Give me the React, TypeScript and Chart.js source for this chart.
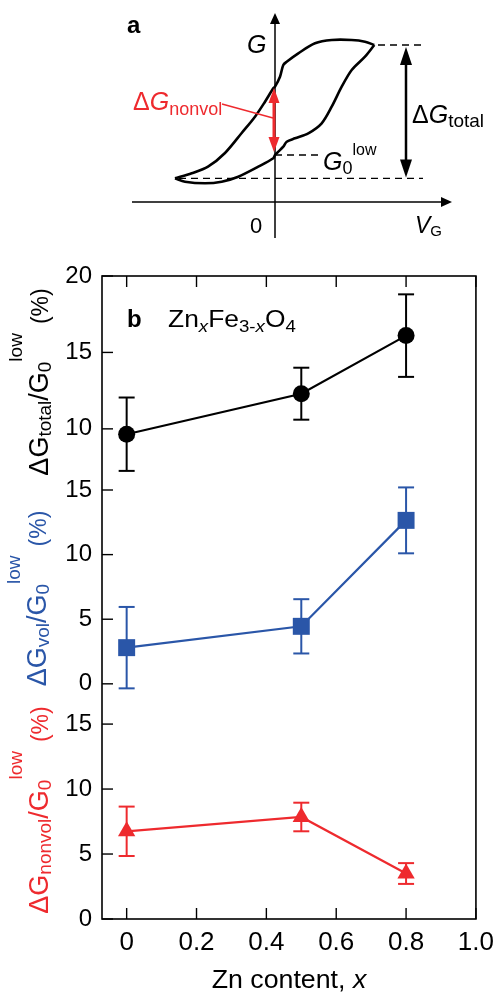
import React, { useEffect, useRef } from "react";
import { Chart, registerables } from "chart.js";

Chart.register(...registerables);

const FONT = "'Liberation Sans', Arial, Helvetica, sans-serif";
const BLACK = "#000000";
const BLUE = "#2A56A8";
const RED = "#EE2A2E";

// ---------- Panel a: schematic hysteresis loop (V_G, G arbitrary units) ----------
const LOOP_UPPER_V = [-10.0, -8.33, -6.7, -5.0, -3.33, -2.0, -1.0, -0.17, 0, 0.5, 0.83, 1.17, 2.33, 4.0, 5.67, 7.67, 9.0, 9.93];
const LOOP_UPPER_G = [2.37, 2.87, 3.53, 4.9, 6.9, 8.53, 10.03, 11.37, 11.53, 12.53, 13.7, 14.03, 14.87, 15.87, 16.2, 16.2, 16.03, 15.7];
const LOOP_LOWER_V = [9.93, 9.0, 7.67, 6.67, 5.67, 4.67, 3.33, 2.0, 1.17, 0.83, 0.33, 0, -0.17, -1.67, -3.67, -5.33, -7.0, -9.0, -10.0];
const LOOP_LOWER_G = [15.7, 14.53, 13.2, 11.53, 9.53, 7.87, 6.87, 6.37, 6.03, 5.53, 5.03, 4.7, 4.37, 3.53, 2.53, 2.03, 1.87, 2.03, 2.37];
const G_HIGH = 15.7;
const G_LOW = 2.37;
const G0_LOW = 4.7;
const G_NONVOL_TOP = 11.4;
const G_NONVOL_BOTTOM = 5.0;

// ---------- Panel b: data ----------
const X_CONTENT = [0, 0.5, 0.8];
const TOTAL = [9.65, 12.3, 16.1];
const TOTAL_ERR = [2.4, 1.7, 2.7];
const VOL = [2.8, 4.45, 12.65];
const VOL_ERR = [3.15, 2.1, 2.55];
const NONVOL = [6.75, 7.85, 3.5];
const NONVOL_ERR = [1.9, 1.1, 0.8];

const X_TICKS = [0, 0.2, 0.4, 0.6, 0.8, 1.0];
const TOTAL_TICKS = [10, 15, 20];
const VOL_TICKS = [0, 5, 10, 15];
const NONVOL_TICKS = [0, 5, 10, 15];

type Seg = { t: string; size: number; italic?: boolean; bold?: boolean; dy?: number; gap?: number };

function segFont(s: Seg) {
  return `${s.italic ? "italic " : ""}${s.bold ? "bold " : ""}${s.size}px ${FONT}`;
}

function drawRich(
  ctx: CanvasRenderingContext2D,
  segs: Seg[],
  x: number,
  y: number,
  color: string,
  align: "left" | "center" = "left",
  rotate = false,
  scaleX = 1
) {
  ctx.save();
  ctx.translate(x, y);
  if (rotate) ctx.rotate(-Math.PI / 2);
  ctx.scale(scaleX, 1);
  ctx.fillStyle = color;
  ctx.textBaseline = "alphabetic";
  ctx.textAlign = "left";
  let total = 0;
  for (const s of segs) {
    ctx.font = segFont(s);
    total += ctx.measureText(s.t).width + (s.gap || 0);
  }
  let cx = align === "center" ? -total / 2 : 0;
  for (const s of segs) {
    ctx.font = segFont(s);
    cx += s.gap || 0;
    ctx.fillText(s.t, cx, s.dy || 0);
    cx += ctx.measureText(s.t).width;
  }
  ctx.restore();
}

function arrowHead(
  ctx: CanvasRenderingContext2D,
  tx: number,
  ty: number,
  dx: number,
  dy: number,
  len: number,
  half: number,
  color: string
) {
  const bx = tx - dx * len;
  const by = ty - dy * len;
  const nx = -dy;
  const ny = dx;
  ctx.save();
  ctx.fillStyle = color;
  ctx.beginPath();
  ctx.moveTo(tx, ty);
  ctx.lineTo(bx + nx * half, by + ny * half);
  ctx.lineTo(bx - nx * half, by - ny * half);
  ctx.closePath();
  ctx.fill();
  ctx.restore();
}

function line(ctx: CanvasRenderingContext2D, x1: number, y1: number, x2: number, y2: number) {
  ctx.beginPath();
  ctx.moveTo(x1, y1);
  ctx.lineTo(x2, y2);
  ctx.stroke();
}

const panelAPlugin = {
  id: "panelA",
  beforeDatasetsDraw(chart: any) {
    const ctx: CanvasRenderingContext2D = chart.ctx;
    const xs = chart.scales.x;
    const ys = chart.scales.y;
    const px = (v: number) => xs.getPixelForValue(v);
    const py = (g: number) => ys.getPixelForValue(g);
    ctx.save();
    ctx.strokeStyle = BLACK;
    ctx.lineWidth = 1.5;
    const tipX = px(17.7);
    line(ctx, px(-14.3), py(0), tipX - 8, py(0));
    arrowHead(ctx, tipX, py(0), 1, 0, 11, 5, BLACK);
    const tipY = py(18.9);
    line(ctx, px(0), py(-3.6), px(0), tipY + 8);
    arrowHead(ctx, px(0), tipY, 0, -1, 11, 5, BLACK);
    ctx.setLineDash([7, 5]);
    ctx.lineWidth = 1.3;
    line(ctx, px(10.3), py(G_HIGH), px(14.8), py(G_HIGH));
    line(ctx, px(-9.6), py(G_LOW), px(14.8), py(G_LOW));
    line(ctx, px(0), py(G0_LOW), px(4.3), py(G0_LOW));
    ctx.restore();
  },
  afterDatasetsDraw(chart: any) {
    const ctx: CanvasRenderingContext2D = chart.ctx;
    const xs = chart.scales.x;
    const ys = chart.scales.y;
    const px = (v: number) => xs.getPixelForValue(v);
    const py = (g: number) => ys.getPixelForValue(g);
    ctx.save();
    const ax = px(13.1);
    const aTop = py(15.5);
    const aBot = py(2.45);
    ctx.strokeStyle = BLACK;
    ctx.lineWidth = 2.5;
    line(ctx, ax, aTop + 14, ax, aBot - 14);
    arrowHead(ctx, ax, aTop, 0, -1, 18, 6, BLACK);
    arrowHead(ctx, ax, aBot, 0, 1, 18, 6, BLACK);
    const rx = px(-0.1);
    const rTop = py(G_NONVOL_TOP);
    const rBot = py(G_NONVOL_BOTTOM);
    ctx.strokeStyle = RED;
    ctx.lineWidth = 3;
    line(ctx, rx, rTop + 12, rx, rBot - 12);
    arrowHead(ctx, rx, rTop, 0, -1, 15, 5.5, RED);
    arrowHead(ctx, rx, rBot, 0, 1, 15, 5.5, RED);
    ctx.lineWidth = 1.4;
    line(ctx, px(-5.3), py(9.8), px(-0.2), py(8.4));
    ctx.restore();

    drawRich(ctx, [{ t: "a", size: 24, bold: true }], px(-14.8), py(16.9), BLACK);
    drawRich(ctx, [{ t: "G", size: 25, italic: true }], px(-2.8), py(14.9), BLACK);
    drawRich(ctx, [{ t: "0", size: 22 }], px(-2.5), py(-3.1), BLACK);
    drawRich(
      ctx,
      [
        { t: "V", size: 23, italic: true },
        { t: "G", size: 15, dy: 3 },
      ],
      px(14.0),
      py(-3.1),
      BLACK
    );
    drawRich(
      ctx,
      [
        { t: "\u0394", size: 25 },
        { t: "G", size: 25, italic: true },
        { t: "nonvol", size: 18, dy: 5 },
      ],
      px(-14.2),
      py(9.2),
      RED
    );
    drawRich(
      ctx,
      [
        { t: "\u0394", size: 25 },
        { t: "G", size: 25, italic: true },
        { t: "total", size: 19, dy: 4 },
      ],
      px(13.7),
      py(7.9),
      BLACK
    );
    drawRich(
      ctx,
      [
        { t: "G", size: 25, italic: true },
        { t: "0", size: 18, dy: 4 },
        { t: "low", size: 16, dy: -15 },
      ],
      px(4.8),
      py(3.2),
      BLACK
    );
  },
};

const SERIES = [
  { vals: TOTAL, errs: TOTAL_ERR, axis: "yTotal", color: BLACK },
  { vals: VOL, errs: VOL_ERR, axis: "yVol", color: BLUE },
  { vals: NONVOL, errs: NONVOL_ERR, axis: "yNon", color: RED },
];

const panelBPlugin = {
  id: "panelB",
  beforeDatasetsDraw(chart: any) {
    const ctx: CanvasRenderingContext2D = chart.ctx;
    const xs = chart.scales.x;
    ctx.save();
    ctx.lineWidth = 2;
    for (const s of SERIES) {
      const ys = chart.scales[s.axis];
      ctx.strokeStyle = s.color;
      s.vals.forEach((v, j) => {
        const x = xs.getPixelForValue(X_CONTENT[j]);
        const y1 = ys.getPixelForValue(v + s.errs[j]);
        const y2 = ys.getPixelForValue(v - s.errs[j]);
        line(ctx, x, y1, x, y2);
        line(ctx, x - 8, y1, x + 8, y1);
        line(ctx, x - 8, y2, x + 8, y2);
      });
    }
    ctx.restore();
  },
  afterDraw(chart: any) {
    const ctx: CanvasRenderingContext2D = chart.ctx;
    const a = chart.chartArea;
    const xs = chart.scales.x;
    ctx.save();
    ctx.strokeStyle = BLACK;
    ctx.lineWidth = 1.6;
    ctx.strokeRect(a.left, a.top, a.right - a.left, a.bottom - a.top);
    ctx.lineWidth = 1.4;
    for (const v of X_TICKS) {
      const x = xs.getPixelForValue(v);
      line(ctx, x, a.bottom, x, a.bottom - 11);
      line(ctx, x, a.top, x, a.top + 11);
    }
    const yTickSets: [string, number[]][] = [
      ["yTotal", TOTAL_TICKS],
      ["yVol", VOL_TICKS],
      ["yNon", NONVOL_TICKS],
    ];
    for (const [id, ticks] of yTickSets) {
      const ys = chart.scales[id];
      for (const v of ticks) {
        const y = ys.getPixelForValue(v);
        line(ctx, a.left, y, a.left + 11, y);
      }
    }
    ctx.restore();

    const titleX = 48;
    const mid = (id: string) => (chart.scales[id].top + chart.scales[id].bottom) / 2;
    const tail: Seg[] = [
      { t: "/", size: 27 },
      { t: "G", size: 27 },
      { t: "0", size: 19, dy: 3 },
      { t: "low", size: 19, dy: -26 },
      { t: "(%)", size: 23, gap: 9 },
    ];
    drawRich(
      ctx,
      [{ t: "\u0394", size: 27 }, { t: "G", size: 27 }, { t: "total", size: 19, dy: 3 }, ...tail],
      titleX,
      mid("yTotal") - 1,
      BLACK,
      "center",
      true
    );
    drawRich(
      ctx,
      [{ t: "\u0394", size: 27 }, { t: "G", size: 27 }, { t: "vol", size: 19, dy: 3 }, ...tail],
      titleX - 2,
      mid("yVol") + 9,
      BLUE,
      "center",
      true
    );
    drawRich(
      ctx,
      [{ t: "\u0394", size: 27 }, { t: "G", size: 27 }, { t: "nonvol", size: 19, dy: 3 }, ...tail],
      titleX,
      mid("yNon") + 6,
      RED,
      "center",
      true
    );

    drawRich(
      ctx,
      [
        { t: "Zn content, ", size: 25 },
        { t: "x", size: 25, italic: true },
      ],
      (a.left + a.right) / 2,
      738,
      BLACK,
      "center",
      false,
      1.07
    );

    drawRich(ctx, [{ t: "b", size: 24, bold: true }], a.left + 25, a.top + 51, BLACK);
    drawRich(
      ctx,
      [
        { t: "Zn", size: 24 },
        { t: "x", size: 17, italic: true, dy: 5 },
        { t: "Fe", size: 24 },
        { t: "3-", size: 17, dy: 5 },
        { t: "x", size: 17, italic: true, dy: 5 },
        { t: "O", size: 24 },
        { t: "4", size: 17, dy: 5 },
      ],
      a.left + 66,
      a.top + 51,
      BLACK,
      "left",
      false,
      1.1
    );
  },
};

function yScale(min: number, max: number, weight: number, ticks: number[]) {
  return {
    type: "linear",
    position: "left",
    stack: "b",
    stackWeight: weight,
    min,
    max,
    grid: { display: false, drawTicks: false },
    border: { display: false },
    afterBuildTicks: (s: any) => {
      s.ticks = ticks.map((v) => ({ value: v }));
    },
    afterFit: (s: any) => {
      s.width = 102;
    },
    ticks: {
      color: BLACK,
      padding: 10,
      font: { family: FONT, size: 24 },
      callback: (v: any) => String(v),
    },
  };
}

export default function App() {
  const aRef = useRef<HTMLCanvasElement>(null);
  const bRef = useRef<HTMLCanvasElement>(null);

  useEffect(() => {
    const upper = LOOP_UPPER_V.map((v, i) => ({ x: v, y: LOOP_UPPER_G[i] }));
    const lower = LOOP_LOWER_V.map((v, i) => ({ x: v, y: LOOP_LOWER_G[i] }));
    const chartA = new Chart(aRef.current as HTMLCanvasElement, {
      type: "scatter",
      data: {
        datasets: [
          { data: upper, showLine: true, borderColor: BLACK, borderWidth: 2.6, pointRadius: 0, tension: 0.3, fill: false },
          { data: lower, showLine: true, borderColor: BLACK, borderWidth: 2.6, pointRadius: 0, tension: 0.3, fill: false },
        ],
      } as any,
      options: {
        animation: false,
        responsive: false,
        devicePixelRatio: 1,
        layout: { padding: 0 },
        plugins: { legend: { display: false }, tooltip: { enabled: false } },
        scales: {
          x: { type: "linear", min: -27.5, max: 22.7, display: false },
          y: { type: "linear", min: -4.8, max: 20.2, display: false },
        },
      } as any,
      plugins: [panelAPlugin],
    });

    const mk = (vals: number[]) => vals.map((v, i) => ({ x: X_CONTENT[i], y: v }));
    const chartB = new Chart(bRef.current as HTMLCanvasElement, {
      type: "line",
      data: {
        datasets: [
          {
            data: mk(TOTAL),
            yAxisID: "yTotal",
            borderColor: BLACK,
            backgroundColor: BLACK,
            borderWidth: 2.2,
            pointStyle: "circle",
            pointRadius: 8.5,
            pointBackgroundColor: BLACK,
            pointBorderWidth: 0,
          },
          {
            data: mk(VOL),
            yAxisID: "yVol",
            borderColor: BLUE,
            backgroundColor: BLUE,
            borderWidth: 2.2,
            pointStyle: "rect",
            pointRadius: 12,
            pointBackgroundColor: BLUE,
            pointBorderWidth: 0,
          },
          {
            data: mk(NONVOL),
            yAxisID: "yNon",
            borderColor: RED,
            backgroundColor: RED,
            borderWidth: 2.2,
            pointStyle: "triangle",
            pointRadius: 10,
            pointBackgroundColor: RED,
            pointBorderWidth: 0,
          },
        ],
      } as any,
      options: {
        animation: false,
        responsive: false,
        devicePixelRatio: 1,
        layout: { padding: { top: 26, right: 21, left: 0, bottom: 0 } },
        plugins: { legend: { display: false }, tooltip: { enabled: false } },
        scales: {
          x: {
            type: "linear",
            position: "bottom",
            min: -0.0706,
            max: 1.0,
            grid: { display: false, drawTicks: false },
            border: { display: false },
            afterBuildTicks: (s: any) => {
              s.ticks = X_TICKS.map((v) => ({ value: v }));
            },
            afterFit: (s: any) => {
              s.height = 75;
            },
            ticks: {
              color: BLACK,
              padding: 8,
              maxRotation: 0,
              font: { family: FONT, size: 26 },
              callback: (v: any) => (v === 0 ? "0" : Number(v).toFixed(1)),
            },
          },
          // stacked axes are placed bottom-up in the order listed
          yNon: yScale(0, 17.7, 230, NONVOL_TICKS),
          yVol: yScale(-0.4, 15, 199, VOL_TICKS),
          yTotal: yScale(6, 20, 214, TOTAL_TICKS),
        },
      } as any,
      plugins: [panelBPlugin],
    });

    return () => {
      chartA.destroy();
      chartB.destroy();
    };
  }, []);

  return (
    <div style={{ position: "absolute", left: 0, top: 0, width: 502, height: 994, background: "#ffffff" }}>
      <canvas
        ref={aRef}
        width={502}
        height={250}
        style={{ position: "absolute", left: 0, top: 0, width: 502, height: 250 }}
      />
      <canvas
        ref={bRef}
        width={502}
        height={744}
        style={{ position: "absolute", left: 0, top: 250, width: 502, height: 744 }}
      />
    </div>
  );
}
